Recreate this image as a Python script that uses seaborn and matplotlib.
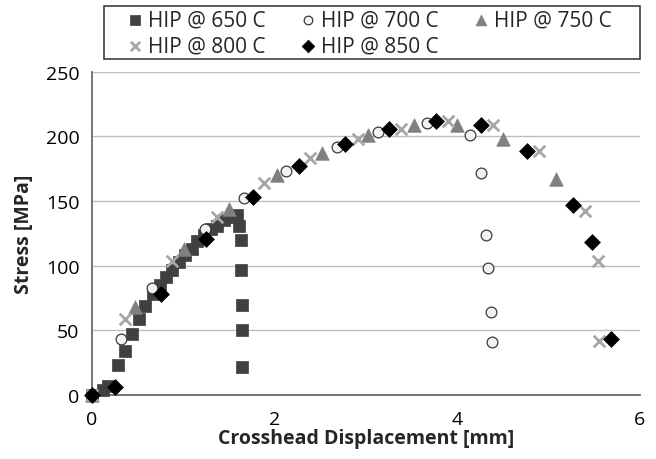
import numpy as np
import pandas as pd
import matplotlib
matplotlib.use("Agg")
import matplotlib.pyplot as plt
from matplotlib.patches import Rectangle
import seaborn as sns

# data (displacement mm, stress MPa)
x_650 = [0.0, 0.12, 0.18, 0.29, 0.36, 0.44, 0.52, 0.58, 0.67, 0.75, 0.81, 0.88, 0.95, 1.02,
         1.10, 1.15, 1.23, 1.30, 1.37, 1.45, 1.52, 1.59, 1.61, 1.63, 1.63, 1.64, 1.65, 1.65]
y_650 = [0, 4, 7, 23, 34, 47, 59, 69, 78, 85, 91, 97, 103, 108,
         113, 119, 124, 128, 131, 135, 138, 139, 131, 120, 97, 70, 50, 22]
x_700 = [0.0, 0.32, 0.66, 1.24, 1.67, 2.13, 2.69, 3.13, 3.67, 4.14, 4.26, 4.32, 4.34, 4.37, 4.38]
y_700 = [0, 43, 83, 128, 152, 173, 192, 203, 210, 201, 172, 124, 98, 64, 41]
x_750 = [0.0, 0.47, 1.01, 1.50, 2.03, 2.52, 3.02, 3.53, 4.00, 4.50, 5.08]
y_750 = [0, 68, 113, 144, 170, 187, 201, 209, 209, 198, 167]
x_800 = [0.0, 0.36, 0.88, 1.37, 1.89, 2.39, 2.91, 3.39, 3.90, 4.39, 4.90, 5.40, 5.54, 5.56]
y_800 = [0, 59, 104, 138, 164, 183, 198, 206, 212, 209, 189, 142, 104, 42]
x_850 = [0.0, 0.25, 0.76, 1.25, 1.77, 2.27, 2.77, 3.26, 3.77, 4.26, 4.77, 5.27, 5.48, 5.69]
y_850 = [0, 6, 78, 121, 153, 177, 194, 206, 212, 209, 189, 147, 118, 43]

labels = ["HIP @ 650 C", "HIP @ 700 C", "HIP @ 750 C", "HIP @ 800 C", "HIP @ 850 C"]
xs = [x_650, x_700, x_750, x_800, x_850]
ys = [y_650, y_700, y_750, y_800, y_850]

# marker styles per series
styles = [
    dict(marker="s", color="#404040", edgecolor="#404040", s=70, linewidth=0.5),
    dict(marker="o", color="#f2f2f2", edgecolor="#3a3a3a", s=60, linewidth=0.9),
    dict(marker="^", color="#808080", edgecolor="#808080", s=95, linewidth=0.5),
    dict(marker="x", color="#a6a6a6", s=70, linewidth=2.0),
    dict(marker="D", color="#000000", edgecolor="#000000", s=65, linewidth=0.5),
]

sns.set_style("white")
plt.rcParams["font.family"] = ["Open Sans", "DejaVu Sans"]

fig = plt.figure(figsize=(6.56, 4.6), dpi=100)
ax = fig.add_axes([0.140, 0.139, 0.835, 0.703])

for xv, yv, lab, st in zip(xs, ys, labels, styles):
    df = pd.DataFrame({"x": xv, "y": yv})
    sns.scatterplot(data=df, x="x", y="y", ax=ax, label=lab, clip_on=False, zorder=3, **st)

ax.set_xlim(0, 6)
ax.set_ylim(0, 250)
ax.set_xticks([0, 2, 4, 6])
ax.set_yticks([0, 50, 100, 150, 200, 250])
ax.yaxis.grid(True, color="#bdbdbd", linewidth=1.0)
ax.xaxis.grid(False)
ax.set_axisbelow(True)
sns.despine(ax=ax)
for side in ["left", "bottom"]:
    ax.spines[side].set_color("#6a6a6a")
    ax.spines[side].set_linewidth(1.3)
ax.tick_params(axis="both", length=0, labelsize=14, colors="#000000")
ax.tick_params(axis="y", pad=9)
ax.tick_params(axis="x", pad=11)

ax.set_xlabel("Crosshead Displacement [mm]", fontsize=14, fontweight="bold", labelpad=0)
ax.set_ylabel("Stress [MPa]", fontsize=14, fontweight="bold", labelpad=8)

# legend filled row by row like the original: 650 700 750 / 800 850
handles, labs = ax.get_legend_handles_labels()
ax.get_legend().remove()
order = [0, 3, 1, 4, 2]
leg = fig.legend([handles[i] for i in order], [labs[i] for i in order],
                 loc="center", bbox_to_anchor=(0.562, 0.926),
                 ncol=3, fontsize=15, frameon=False, markerscale=0.8,
                 handletextpad=0.15, borderpad=0, labelspacing=0.28, handlelength=0.9,
                 columnspacing=1.6)

# legend box
fig.patches.append(Rectangle((0.1585, 0.8696), 0.8171, 0.1152, transform=fig.transFigure,
                             fill=False, edgecolor="#404040", linewidth=1.2))

fig.savefig("out.png", dpi=100)
